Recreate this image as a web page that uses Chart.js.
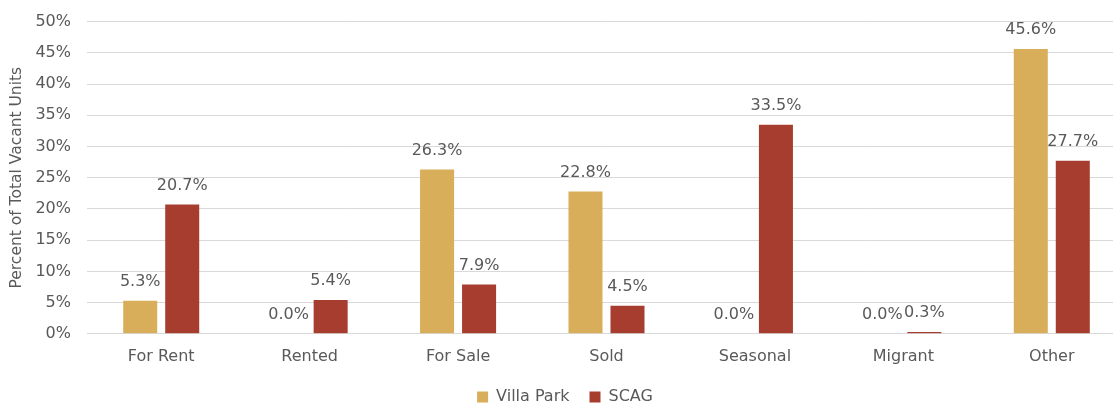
<!DOCTYPE html>
<html>
<head>
<meta charset="utf-8">
<script src="https://cdn.jsdelivr.net/npm/chart.js@4/dist/chart.umd.min.js"></script>
<style>
  html, body { margin: 0; padding: 0; background: #fff; overflow: hidden; }
  #wrap { width: 1132px; height: 419px; position: relative; margin-top: -4px; }
</style>
</head>
<body>
<div id="wrap"><canvas id="c"></canvas></div>
<script>
// Vacancy status categories
const categories = ["For Rent", "Rented", "For Sale", "Sold", "Seasonal", "Migrant", "Other"];
// Share of total vacant units (%)
const villaPark = [5.3, 0.0, 26.3, 22.8, 0.0, 0.0, 45.6];
const scag = [20.7, 5.4, 7.9, 4.5, 33.5, 0.3, 27.7];
const seriesNames = ["Villa Park", "SCAG"];
const yTicks = [0, 5, 10, 15, 20, 25, 30, 35, 40, 45, 50];

const textColor = "#595959";
const fontFamily = "'DejaVu Sans', Verdana, sans-serif";

// Writes each bar's value above it
const valueLabels = {
  id: "valueLabels",
  afterDatasetsDraw(chart) {
    const ctx = chart.ctx;
    ctx.save();
    ctx.font = "16px " + fontFamily;
    ctx.fillStyle = textColor;
    ctx.textAlign = "center";
    ctx.textBaseline = "middle";
    chart.data.datasets.forEach((ds, i) => {
      chart.getDatasetMeta(i).data.forEach((bar, j) => {
        ctx.fillText(ds.data[j].toFixed(1) + "%", bar.x, bar.y - 19);
      });
    });
    ctx.restore();
  }
};

new Chart(document.getElementById("c"), {
  type: "bar",
  data: {
    labels: categories,
    datasets: [
      { label: seriesNames[0], data: villaPark, backgroundColor: "#D9AE5A",
        categoryPercentage: 0.566, barPercentage: 0.81 },
      { label: seriesNames[1], data: scag, backgroundColor: "#A63D2F",
        categoryPercentage: 0.566, barPercentage: 0.81 }
    ]
  },
  options: {
    responsive: true,
    maintainAspectRatio: false,
    animation: false,
    layout: { padding: { top: 0, right: 6, left: 4, bottom: 0 } },
    plugins: {
      legend: {
        position: "bottom",
        labels: {
          color: textColor,
          font: { size: 16, family: fontFamily },
          boxWidth: 11, boxHeight: 11, padding: 20
        }
      },
      tooltip: { enabled: false }
    },
    scales: {
      x: {
        grid: { display: false },
        border: { color: "#d9d9d9" },
        ticks: { color: textColor, font: { size: 16, family: fontFamily }, padding: 5 },
        afterFit(axis) { axis.height -= 2; }
      },
      y: {
        min: 0, max: 50,
        afterBuildTicks(axis) { axis.ticks = yTicks.map(v => ({ value: v })); },
        afterFit(axis) { axis.width = 83; },
        grid: { color: "#d9d9d9", drawTicks: false },
        border: { display: false },
        ticks: {
          color: textColor, font: { size: 16, family: fontFamily }, padding: 16,
          callback: v => v + "%"
        },
        title: {
          display: true, text: "Percent of Total Vacant Units",
          color: textColor, font: { size: 15.5, family: fontFamily },
          padding: { top: 4, bottom: 9 }
        }
      }
    }
  },
  plugins: [valueLabels]
});
</script>
</body>
</html>
